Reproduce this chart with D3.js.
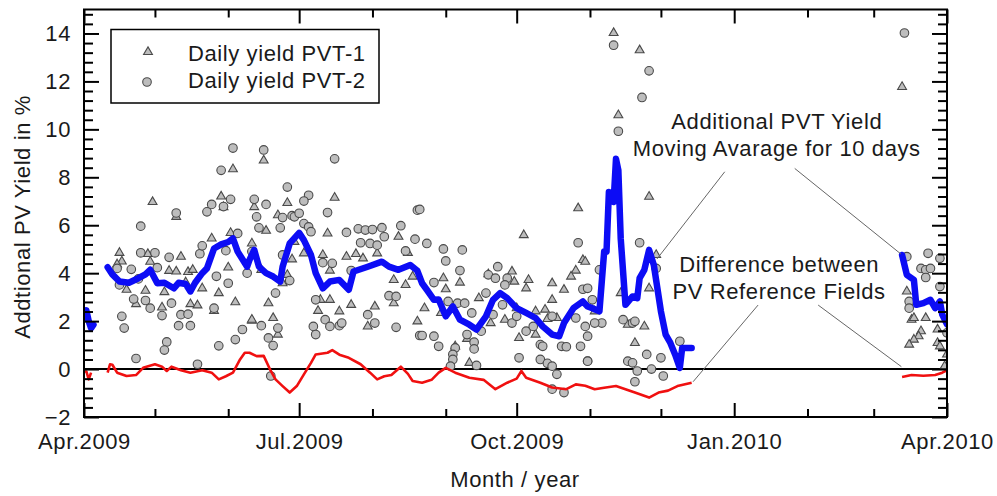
<!DOCTYPE html>
<html><head><meta charset="utf-8">
<script src="https://cdn.jsdelivr.net/npm/d3@7"></script>
<style>
body{margin:0;background:#fff}
svg text{font-family:"Liberation Sans",Arial,sans-serif;font-size:22px;letter-spacing:0.6px;fill:#1a1a1a}
</style></head><body>
<svg id="chart" width="997" height="496"></svg>
<script>
// ---------- DATA ----------
// x positions are day offsets from 1 Apr 2009
const startDay = Date.UTC(2009, 3, 1);
const monthStarts = ["2009-04-01","2009-05-01","2009-06-01","2009-07-01","2009-08-01","2009-09-01","2009-10-01","2009-11-01","2009-12-01","2010-01-01","2010-02-01","2010-03-01","2010-04-01"];
const majorMonths = ["2009-04-01","2009-07-01","2009-10-01","2010-01-01","2010-04-01"];
const majorLabels = ["Apr.2009","Jul.2009","Oct.2009","Jan.2010","Apr.2010"];
const yTicks = [-2,0,2,4,6,8,10,12,14];
const seriesNames = ["Daily yield PVT-1","Daily yield PVT-2"];

// Daily yield PVT-1 (triangles): [day, %]
const pvt1 = [
[63,8.34],[29,6.97],[39,6.35],[58,7.2],[59,6.76],[62,5.68],[54,5.45],[15,4.85],[16,4.49],[27,4.8],[28,4.48],[41,4.69],[36,4.1],[39,4.07],[44,4.05],[46,4.14],[61,4.24],[14,4.37],[18,3.31],[26,3.27],[22,2.71],[34,3.21],[43,3.62],[50,3.37],[57,3.17],[64,2.79],[33,2.57],[45,2.71],[48,2.66],[55,2.43],[71,2.02],
[76,8.7],[106,7.15],[86,6.93],[72,6.76],[82,6.42],[77,5.77],[103,5.66],[89,5.31],[93,4.83],[88,4.58],[101,4.76],[111,4.69],[115,4.8],[118,4.62],[124,4.83],[133,5.52],[137,4.85],[71,5.24],[75,4.14],[84,3.58],[86,3.93],[104,4.11],[131,3.72],[136,3.51],[139,3.86],[100,2.89],[104,2.89],[113,2.68],[123,2.61],[131,2.75],[78,2.75],[99,2.43],[108,2.41],[71,2.06],[80,2.13],[82,1.44],[120,1.78],[141,1.99],
[209,6.71],[186,5.59],[211,4.55],[208,4.11],[206,3.86],[152,3.79],[153,3.33],[159,3.61],[171,3.96],[181,4.07],[182,3.65],[188,3.72],[187,3.37],[198,3.58],[203,3.31],[198,2.89],[144,2.54],[151,2.34],[167,2.96],[178,2.06],[172,1.92],[183,2.54],[191,2.41],[195,2.48],[196,2.09],[200,2.13],[191,1.44],[184,1.3],[162,1.26],[157,0.95],[163,0.26],
[224,14.02],[235,13.3],[226,10.59],[239,7.19],[242,4.76],[227,3.17],[239,3.37],[212,4.48],[216,2.41],[230,1.85],[237,1.78],[233,1.09],
[346,11.77],[348,3.24],[350,2.06],[351,2.13],[356,2.13],[354,1.58],[353,1.37],[351,1.23],[349,1.02],[361,1.09],[362,0.95],[361,1.65],[365,0.61],[364,0.12]
];

// Daily yield PVT-2 (circles): [day, %]
const pvt2 = [
[63,9.22],[58,8.29],[24,5.96],[39,6.51],[52,6.56],[54,6.87],[62,7.08],[59,6.78],[65,5.66],[24,4.85],[30,4.85],[36,4.66],[49,4.81],[50,5.14],[20,4.16],[14,4.2],[31,4.23],[23,3.76],[60,4.94],[56,3.87],[61,3.58],[69,4.0],[15,3.51],[21,2.92],[26,2.86],[28,2.54],[33,2.23],[37,2.75],[41,2.27],[44,2.29],[40,1.81],[45,1.81],[55,2.54],[16,2.2],[17,1.71],[35,1.13],[34,0.79],[22,0.44],[48,0.2],[57,0.97],[64,1.23],[67,1.65],
[76,9.14],[106,8.77],[86,7.59],[72,7.08],[77,6.87],[95,7.25],[93,7.01],[103,6.53],[73,6.35],[84,6.32],[88,6.4],[89,6.35],[91,6.5],[93,6.07],[95,5.93],[96,5.73],[74,5.89],[83,5.89],[141,6.63],[111,5.7],[116,5.85],[119,5.8],[122,5.82],[126,5.9],[134,5.98],[117,5.27],[121,5.24],[124,5.17],[127,5.52],[140,5.42],[136,4.93],[71,4.9],[84,4.76],[87,3.69],[101,4.44],[105,4.41],[113,4.11],[81,3.17],[98,2.89],[129,3.06],[132,3.03],[75,1.81],[82,1.71],[78,1.3],[80,0.98],[97,1.78],[98,1.44],[102,2.06],[104,1.78],[108,1.81],[109,1.92],[120,2.27],[123,1.92],[132,1.74],[142,1.4],[79,-0.29],
[142,6.66],[145,5.24],[152,5.01],[160,4.97],[153,4.51],[159,4.11],[209,5.27],[175,4.27],[148,3.61],[171,3.93],[174,3.79],[179,3.79],[178,3.51],[211,3.33],[154,2.82],[158,2.75],[161,2.75],[170,3.17],[177,2.68],[173,2.27],[164,2.34],[181,1.92],[183,2.2],[143,1.4],[148,1.37],[150,0.95],[162,1.44],[165,1.12],[168,1.58],[165,0.84],[157,0.88],[156,0.61],[156,0.4],[155,0.12],[166,0.15],[187,1.58],[184,0.47],[190,1.78],[193,1.02],[194,0.95],[193,0.4],[196,0.24],[198,0.12],[200,-0.22],[198,-0.84],[203,-0.98],[202,0.95],[204,0.93],[210,0.95],[213,0.33],[198,2.2],[212,1.78],[208,2.13],
[224,13.51],[239,12.44],[236,11.33],[226,9.92],[235,5.27],[218,4.14],[242,4.2],[213,3.37],[215,2.89],[219,1.92],[216,1.92],[213,1.37],[228,2.06],[232,1.92],[233,1.99],[213,0.33],[230,0.33],[232,0.26],[234,-0.08],[233,-0.53],[238,0.61],[240,0.0],[244,0.47],[245,-0.29],[252,1.16],
[347,14.02],[348,4.69],[357,4.83],[362,4.62],[354,4.2],[356,4.14],[358,4.2],[356,3.82],[362,3.44],[349,2.82],[349,2.54],[365,1.51]
];

// Additional PVT yield, moving average over 10 days (null = gap)
const movingAvg = [
[0,2.1],[1,2.45],[2,2.0],[3,1.7],[4,1.85],[5,null],
[10,4.25],[12,3.95],[15,3.65],[19,3.6],[23,3.79],[26,3.95],[28,4.14],[31,3.58],[34,3.6],[38,3.37],[40,3.6],[43,3.55],[45,3.24],[47,3.6],[50,4.0],[52,4.2],[55,5.03],[58,5.2],[61,5.3],[63,5.45],[65,4.9],[69,4.27],[70,4.55],[72,4.97],[74,4.27],[77,4.0],[80,3.86],[83,3.65],[84,4.27],[87,5.24],[91,5.68],[93,5.38],[96,4.76],[98,4.0],[101,3.37],[104,3.65],[108,3.72],[112,3.31],[114,4.07],[120,4.27],[126,4.48],[129,4.27],[133,4.14],[138,4.34],[141,4.1],[143,3.58],[145,3.31],[148,2.89],[150,2.9],[153,2.2],[156,2.61],[159,2.06],[163,1.85],[166,1.65],[170,2.2],[173,2.89],[176,3.17],[179,2.96],[183,2.54],[187,2.34],[191,2.13],[194,1.78],[198,1.44],[201,1.37],[203,1.92],[207,2.54],[211,2.82],[213,2.61],[215,2.54],[218,2.41],[220,4.9],[221,4.9],[222,7.39],[224,6.97],[225,8.77],[226,8.3],[227,5.45],[229,2.68],[232,3.03],[234,2.96],[235,3.79],[237,4.14],[239,4.97],[241,4.34],[244,2.41],[246,1.44],[248,1.09],[250,0.61],[252,0.05],[253,0.88],[257,0.88],[258,null],
[346,4.76],[348,3.93],[351,3.72],[352,2.68],[355,2.75],[358,2.89],[360,2.54],[362,2.82],[363,2.27],[365,1.87]
];

// Difference between PV reference fields (null = gap)
const refDiff = [
[0,-0.1],[1,-0.1],[2,-0.43],[3,-0.15],[5,null],
[10,-0.15],[11,0.2],[12,0.18],[14,-0.15],[18,-0.29],[22,-0.25],[25,0.05],[30,0.2],[33,0.1],[35,-0.08],[37,0.1],[41,-0.05],[45,-0.15],[50,-0.05],[54,-0.15],[57,-0.43],[60,-0.3],[63,-0.15],[66,0.4],[68,0.68],[70,0.68],[73,0.54],[76,0.55],[79,-0.08],[81,-0.43],[84,-0.71],[87,-0.98],[90,-0.71],[93,-0.22],[96,0.26],[98,0.61],[103,0.68],[105,0.79],[108,0.6],[112,0.47],[117,0.2],[121,-0.15],[124,-0.43],[127,-0.3],[130,-0.25],[134,0.1],[137,-0.2],[139,-0.5],[143,-0.57],[147,-0.45],[150,-0.15],[153,0.05],[157,-0.15],[163,-0.36],[169,-0.45],[174,-0.84],[179,-0.57],[183,-0.4],[185,-0.08],[187,-0.36],[193,-0.57],[198,-0.77],[204,-0.84],[208,-0.64],[212,-0.7],[216,-0.84],[220,-0.78],[225,-0.71],[229,-0.84],[233,-0.98],[239,-1.19],[243,-0.98],[247,-0.9],[251,-0.71],[257,-0.57],[258,null],
[346,-0.33],[350,-0.25],[355,-0.28],[360,-0.25],[363,-0.15],[365,-0.05]
];

// annotation texts and leader lines (in data space: [day, %])
const annoTexts = [
  {lines:["Additional PVT Yield","Moving Avarage for 10 days"], at:[293,10.0]},
  {lines:["Difference between","PV Reference Fields"], at:[294,4.05]}
];
const annoLines = [
  [[271,8.23],[242.3,4.59]],
  [[300.6,8.37],[345.5,4.8]],
  [[285.1,2.67],[257.6,-0.53]],
  [[310.5,2.67],[345.7,0.1]]
];

// ---------- CHART ----------
const svg = d3.select("#chart");
const L = 84, R = 947, T = 9.5, B = 417;
const toDate = d => new Date(startDay + d * 864e5);
const parse = s => new Date(s + "T00:00:00Z");
const x = d3.scaleUtc().domain([parse("2009-04-01"), parse("2010-04-01")]).range([L, R]);
const y = d3.scaleLinear().domain([-2, 15]).range([B, T]);
const px = d => x(toDate(d));

svg.append("defs").append("clipPath").attr("id","clip")
  .append("rect").attr("x",L).attr("y",T).attr("width",R-L).attr("height",B-T);

// zero line
svg.append("line").attr("x1",L).attr("x2",R).attr("y1",y(0)).attr("y2",y(0))
  .attr("stroke","#000").attr("stroke-width",2);

const plot = svg.append("g").attr("clip-path","url(#clip)");

const markFill = "#bdbdbd", markStroke = "#4a4a4a";
const tri = d3.symbol().type(d3.symbolTriangle).size(34);
plot.append("g").selectAll("path").data(pvt1).join("path")
  .attr("d", tri)
  .attr("transform", d => `translate(${px(d[0])},${y(d[1])})`)
  .attr("fill", markFill).attr("stroke", markStroke).attr("stroke-width",1.1);
plot.append("g").selectAll("circle").data(pvt2).join("circle")
  .attr("cx", d => px(d[0])).attr("cy", d => y(d[1])).attr("r", 4.3)
  .attr("fill", markFill).attr("stroke", markStroke).attr("stroke-width",1.1);

const line = d3.line().defined(d => d[1] !== null).x(d => px(d[0])).y(d => y(d[1]));
plot.append("path").datum(refDiff).attr("d", line)
  .attr("fill","none").attr("stroke","#f01010").attr("stroke-width",2.6).attr("stroke-linejoin","round");
plot.append("path").datum(movingAvg).attr("d", line)
  .attr("fill","none").attr("stroke","#0c0cf5").attr("stroke-width",6.5).attr("stroke-linejoin","round").attr("stroke-linecap","round");

// axes
const majorD = majorMonths.map(parse);
const minorD = monthStarts.filter(m => !majorMonths.includes(m)).map(parse);
const yMinor = d3.range(0, 43).map(k => Math.round((-2 + k * 0.4) * 10) / 10).filter(v => !yTicks.includes(v));

function styleAxis(g){
  g.select(".domain").remove();
  g.selectAll(".tick line").attr("stroke","#000").attr("stroke-width",2);
  g.selectAll("text").attr("font-family",null).attr("font-size",null).attr("fill","#1a1a1a");
}
svg.append("g").attr("transform",`translate(0,${B})`)
  .call(d3.axisBottom(x).tickValues(majorD).tickSize(-14).tickPadding(16).tickFormat((d,i)=>majorLabels[i])).call(styleAxis);
svg.append("g").attr("transform",`translate(0,${B})`)
  .call(d3.axisBottom(x).tickValues(minorD).tickSize(-8).tickFormat("")).call(styleAxis);
svg.append("g").attr("transform",`translate(0,${T})`)
  .call(d3.axisTop(x).tickValues(majorD).tickSize(-14).tickFormat("")).call(styleAxis);
svg.append("g").attr("transform",`translate(0,${T})`)
  .call(d3.axisTop(x).tickValues(minorD).tickSize(-8).tickFormat("")).call(styleAxis);
svg.append("g").attr("transform",`translate(${L},0)`)
  .call(d3.axisLeft(y).tickValues(yTicks).tickSize(-15).tickPadding(13).tickFormat(d3.format("d"))).call(styleAxis);
svg.append("g").attr("transform",`translate(${L},0)`)
  .call(d3.axisLeft(y).tickValues(yMinor).tickSize(-9).tickFormat("")).call(styleAxis);
svg.append("g").attr("transform",`translate(${R},0)`)
  .call(d3.axisRight(y).tickValues(yTicks).tickSize(-15).tickFormat("")).call(styleAxis);
svg.append("g").attr("transform",`translate(${R},0)`)
  .call(d3.axisRight(y).tickValues(yMinor).tickSize(-9).tickFormat("")).call(styleAxis);

// frame
svg.append("rect").attr("x",L).attr("y",T).attr("width",R-L).attr("height",B-T)
  .attr("fill","none").attr("stroke","#000").attr("stroke-width",2);

// axis titles
svg.append("text").attr("x",515).attr("y",487).attr("text-anchor","middle").text("Month / year");
svg.append("text").attr("transform","translate(30,217) rotate(-90)").attr("text-anchor","middle").text("Addtional PV Yield in %");

// annotations
svg.append("g").selectAll("line").data(annoLines).join("line")
  .attr("x1",d=>px(d[0][0])).attr("y1",d=>y(d[0][1]))
  .attr("x2",d=>px(d[1][0])).attr("y2",d=>y(d[1][1]))
  .attr("stroke","#666").attr("stroke-width",1);
annoTexts.forEach(a => {
  const t = svg.append("text").attr("text-anchor","middle");
  a.lines.forEach((s,i) => t.append("tspan").attr("x", px(a.at[0])).attr("y", y(a.at[1]) + i*27).text(s));
});

// legend
const lg = svg.append("g");
lg.append("rect").attr("x",111).attr("y",29.5).attr("width",268).attr("height",73.5)
  .attr("fill","#fff").attr("stroke","#000").attr("stroke-width",1.5);
lg.append("path").attr("d",tri).attr("transform","translate(148,52)")
  .attr("fill",markFill).attr("stroke",markStroke).attr("stroke-width",1.1);
lg.append("circle").attr("cx",147).attr("cy",82).attr("r",4.3)
  .attr("fill",markFill).attr("stroke",markStroke).attr("stroke-width",1.1);
lg.append("text").attr("x",188).attr("y",61).text(seriesNames[0]);
lg.append("text").attr("x",188).attr("y",88).text(seriesNames[1]);
</script>
</body></html>
